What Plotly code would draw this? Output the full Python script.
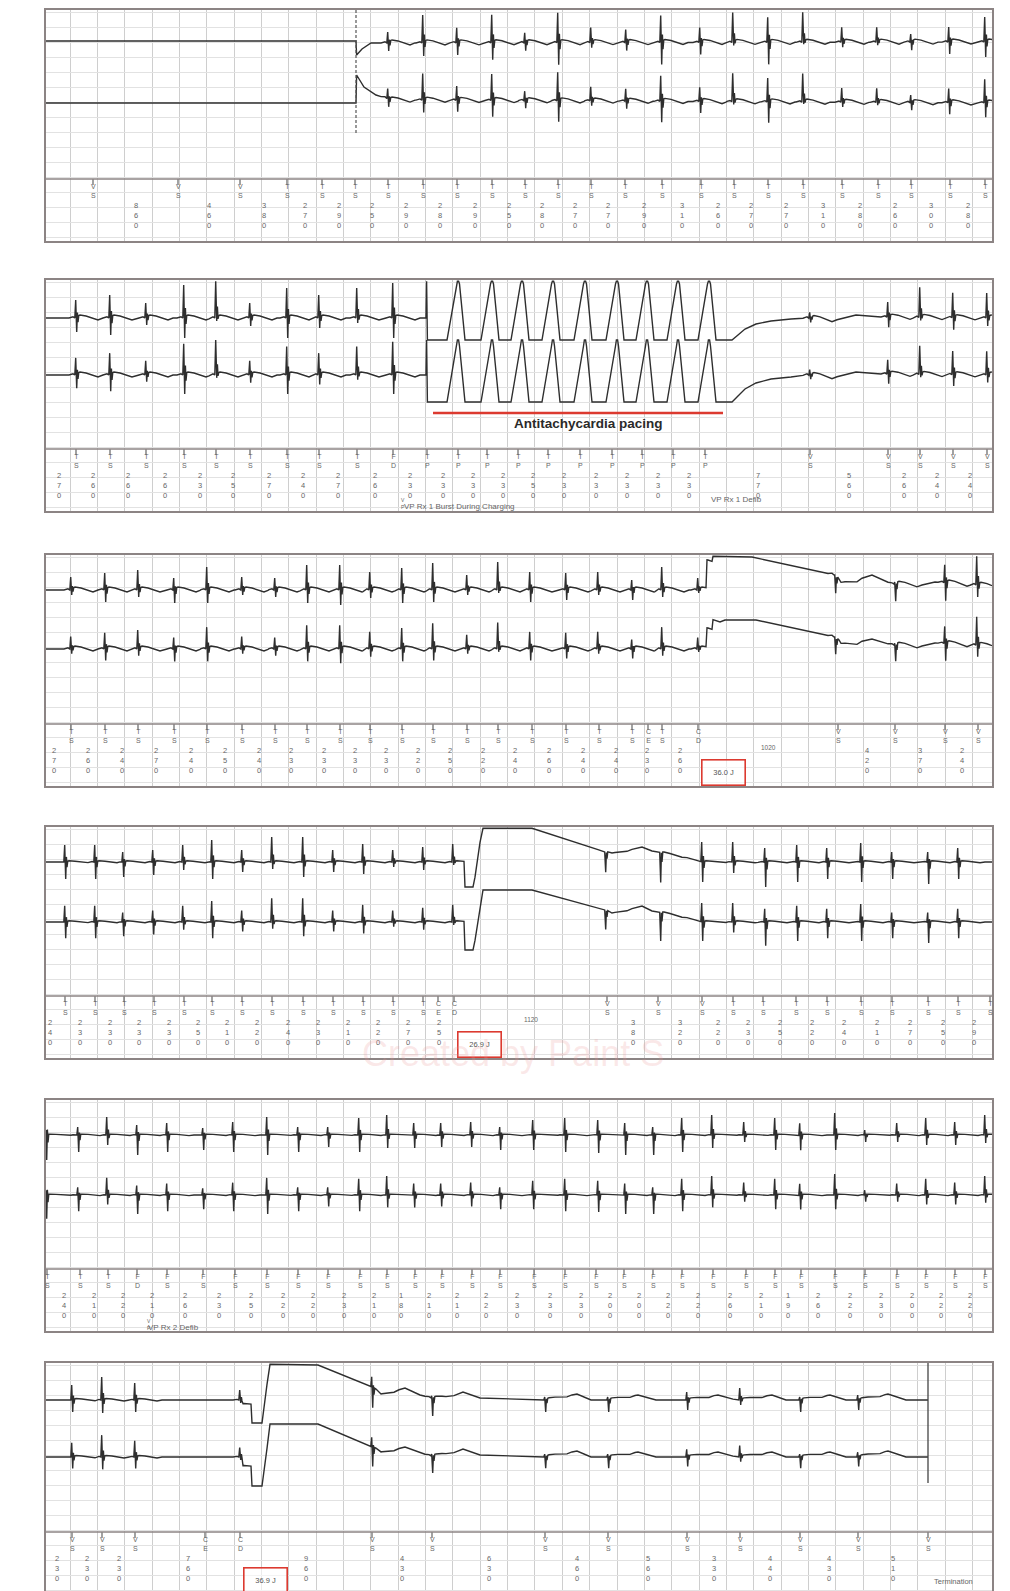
import numpy as np
import plotly.graph_objects as go

# ======================= DATA (read from the reference strips) =======================
# x positions are along each strip (0 .. 946), amplitudes in strip units (up = positive)

# ---- Strip 1 : start of EGM storage ----
P1_EGM_START = 310
P1_BEATS = [342, 377, 411, 446, 479, 512, 545, 580, 615, 654, 687, 722, 757, 796, 831, 865, 903, 939]
P1_UP = [11, 28, 15, 28, 10, 30, 15, 13, 27, 15, 30, 25, 30, 15, 15, 8, 15, 25]
P1_DN = [8, 13, 12, 17, 8, 22, 5, 8, 22, 12, 3, 22, 2, 5, 3, 8, 12, 15]
P1_TOP_BASE_X = [0, 310, 310.6, 316, 325, 946]
P1_TOP_BASE_Y = [0, 0, -14, -8, -2, -1]
P1_BOT_BASE_X = [0, 310, 310.6, 318, 330, 345, 946]
P1_BOT_BASE_Y = [0, 0, 28, 16, 8, 3, 0]
P1_MK_X = [47, 132, 194, 241, 276, 309, 342, 377, 411, 446, 479, 512, 545, 579, 616, 655, 688, 722,
           757, 796, 832, 865, 904, 939]
P1_MK_LBL = ["VS", "VS", "VS"] + ["TS"] * 21
P1_MK_INT = [None, 860, 460, 380, 270, 290, 250, 290, 280, 290, 250, 280, 270, 270, 290, 310, 260, 270,
             270, 310, 280, 260, 300, 280]

# ---- Strip 2 : ATP during charging ----
P2_BEATS = [30, 64, 100, 138, 170, 204, 241, 273, 311, 347, 764, 842, 874, 907, 941]
P2_UP = [18, 23, 15, 33, 38, 15, 30, 23, 30, 35, 6, 15, 30, 25, 25]
P2_DN = [14, 17, 7, 20, 3, 8, 20, 10, 5, 20, 4, 10, 3, 12, 8]
P2_PACES = [412, 446, 476, 507, 539, 571, 601, 632, 663]
P2_TOP_BASE_X = [0, 380, 380.6, 381.4, 686, 692, 699, 710, 725, 745, 760, 790, 810, 830, 946]
P2_TOP_BASE_Y = [0, 0, 60, -22, -22, -17, -11, -6, -3, -1, 0, -2, 3, 1, 0]
P2_BOT_BASE_X = [0, 380, 380.6, 381.4, 686, 692, 699, 710, 725, 745, 760, 790, 810, 830, 946]
P2_BOT_BASE_Y = [0, 0, 40, -27, -27, -21, -14, -8, -4, -2, 0, -2, 3, 1, 0]
P2_MK_X = [30, 64, 100, 138, 170, 204, 241, 273, 311, 347, 381, 412, 441, 472, 502, 534, 566, 596,
           627, 659, 764, 842, 874, 907, 941]
P2_MK_LBL = ["TS"] * 9 + ["FD"] + ["TP"] * 10 + ["VS"] * 5
P2_MK_INT = [270, 260, 260, 260, 230, 250, 270, 240, 270, 260, 230, 230, 230, 230, 250, 230, 230, 230,
             230, 230, 770, 560, 260, 240, 240]
P2_ATP_LABEL = "Antitachycardia pacing"
P2_RX_TEXT = "VP Rx 1 Burst During Charging"
P2_RX2_TEXT = "VP Rx 1 Defib"

# ---- Strip 3 : first shock ----
P3_BEATS = [25, 59, 92, 128, 161, 196, 229, 261, 294, 324, 356, 387, 421, 452, 484, 520, 552, 586,
            616, 652, 789, 849, 899, 931]
P3_UP = [13, 17, 20, 12, 23, 13, 12, 25, 25, 18, 22, 27, 15, 28, 18, 17, 18, 10, 23, 12, 0, 2, 18, 30]
P3_DN = [5, 12, 7, 13, 13, 5, 7, 13, 15, 8, 13, 12, 5, 3, 12, 10, 5, 10, 7, 3, 17, 17, 18, 12]
P3_TOP_BASE_X = [0, 660, 661, 666, 667, 706, 789, 795, 826, 846, 876, 889, 946]
P3_TOP_BASE_Y = [0, 0, 28, 28, 45, 33, 15, 5, 15, 6, 5, 8, 4]
P3_BOT_BASE_X = [0, 660, 661, 666, 667, 710, 789, 795, 826, 846, 876, 889, 946]
P3_BOT_BASE_Y = [0, 0, 19, 19, 29, 29, 12, 3, 10, 4, 3, 6, 3]
P3_MK_X = [25, 59, 92, 128, 161, 196, 229, 261, 294, 324, 356, 387, 421, 452, 486, 520, 553, 586,
           602, 616, 652, 792, 849, 899, 932]
P3_MK_LBL = ["TS"] * 18 + ["CE", "TS", "CD"] + ["VS"] * 4
P3_MK_INT = [270, 260, 240, 270, 240, 250, 240, 230, 230, 230, 230, 220, 250, 220, 240, 260, 240, 240,
             None, 230, 260, 1020, 420, 370, 240]
P3_ENERGY = "36.0 J"

# ---- Strip 4 : second shock ----
P4_BEATS = [19, 49, 77, 107, 137, 166, 196, 226, 257, 287, 317, 347, 377, 407, 559, 614, 656, 687,
            719, 751, 781, 815, 846, 882, 912]
P4_UP = [17, 17, 10, 12, 17, 22, 12, 25, 25, 12, 18, 12, 15, 18, 0, 0, 20, 20, 14, 17, 14, 19, 10, 10, 14]
P4_DN = [17, 17, 15, 13, 8, 17, 10, 7, 15, 10, 12, 5, 8, 3, 20, 30, 20, 11, 25, 20, 17, 20, 17, 22, 17]
P4_TOP_BASE_X = [0, 418, 419, 427, 437, 486, 559, 566, 596, 606, 639, 656, 946]
P4_TOP_BASE_Y = [0, 0, -28, -28, 40, 35, 10, 8, 15, 11, 5, 0, 0]
P4_BOT_BASE_X = [0, 418, 419, 427, 437, 486, 559, 566, 596, 606, 639, 656, 946]
P4_BOT_BASE_Y = [0, 0, -30, -30, 32, 32, 12, 8, 16, 11, 5, 0, 0]
P4_MK_X = [19, 49, 78, 108, 138, 166, 196, 226, 257, 287, 317, 347, 377, 392, 408, 561, 612, 656,
           687, 717, 750, 781, 815, 846, 882, 912, 944]
P4_MK_LBL = ["TS"] * 13 + ["CE", "CD"] + ["VS"] * 3 + ["TS"] * 9
P4_MK_INT = [240, 230, 230, 230, 230, 250, 210, 220, 240, 230, 210, 220, 270, None, 250, 1120, 380, 320,
             220, 230, 250, 220, 240, 210, 270, 250, 290]
P4_ENERGY = "26.9 J"

# ---- Strip 5 : redetection ----
P5_BEATS = [0, 32, 61, 91, 121, 157, 187, 221, 252, 282, 313, 341, 368, 395, 425, 454, 487, 519,
            552, 579, 607, 636, 666, 698, 729, 754, 789, 819, 851, 880, 909, 939]
P5_UP = [18, 8, 18, 10, 12, 7, 13, 18, 8, 8, 17, 20, 12, 12, 13, 8, 15, 17, 15, 12, 8, 17, 20, 13,
         17, 12, 22, 5, 12, 17, 13, 20]
P5_DN = [25, 17, 10, 20, 17, 15, 17, 20, 17, 12, 17, 13, 13, 12, 12, 15, 15, 17, 18, 20, 20, 17, 13, 7,
         15, 15, 15, 7, 7, 10, 10, 8]
P5_TOP_BASE_X = [0, 946]
P5_TOP_BASE_Y = [0, 0]
P5_BOT_BASE_X = [0, 946]
P5_BOT_BASE_Y = [0, 0]
P5_MK_X = [1, 34, 62, 91, 121, 157, 189, 221, 252, 282, 314, 341, 369, 396, 426, 454, 488, 519,
           550, 578, 607, 636, 667, 700, 729, 755, 789, 819, 851, 880, 909, 939]
P5_MK_LBL = ["TS"] * 3 + ["FD"] + ["FS"] * 28
P5_MK_INT = [None, 240, 210, 220, 210, 260, 230, 250, 220, 220, 230, 210, 180, 210, 210, 220, 230, 230,
             230, 200, 200, 220, 220, 260, 210, 190, 260, 220, 230, 200, 220, 220]
P5_RX_TEXT = "VP Rx 2 Defib"

# ---- Strip 6 : third shock, termination ----
P6_EGM_END = 882
P6_BEATS = [26, 56, 89, 194, 326, 386, 499, 562, 641, 694, 754, 812]
P6_UP = [15, 23, 17, 10, 10, 2, 3, 3, 8, 12, 3, 5]
P6_DN = [12, 13, 12, 3, 20, 18, 12, 12, 10, 5, 12, 10]
P6_TOP_BASE_X = [0, 196, 197, 205, 206, 216, 224, 272, 326, 335, 359, 374, 386, 400, 417, 434, 499, 531,
                 545, 562, 592, 610, 641, 672, 690, 694, 726, 740, 754, 784, 800, 812, 842, 860, 882]
P6_TOP_BASE_Y = [0, 0, -5, -5, -25, -25, 40, 35, 13, 5, 12, 5, 2, 3, 8, 2, 0, 6,
                 0, 0, 5, 0, 0, 5, 0, 0, 5, 0, 0, 5, 0, 0, 6, 0, 0]
P6_BOT_BASE_X = P6_TOP_BASE_X
P6_BOT_BASE_Y = [0, 0, -10, -10, -32, -32, 33, 33, 10, 4, 10, 4, 1, 3, 8, 2, 0, 6,
                 0, 0, 5, 0, 0, 5, 0, 0, 5, 0, 0, 5, 0, 0, 6, 0, 0]
P6_MK_X = [26, 56, 89, 159, 194, 326, 386, 499, 562, 641, 694, 754, 812, 882]
P6_MK_LBL = ["VS"] * 3 + ["CE", "CD"] + ["VS"] * 9
P6_MK_INT = [230, 230, 230, None, 760, 960, 430, 630, 460, 560, 330, 440, 430, 510]
P6_ENERGY = "36.9 J"
P6_END_TEXT = "Termination"

WATERMARK = "Created by Paint S"

# ======================= STYLE / LAYOUT =======================
W, H = 1010, 1591
PAGE_OFF = 8                      # default body margin of the html page
LEFT, RIGHT = 46, 992
STRIP_W = RIGHT - LEFT
PANEL_TOPS = [10, 280, 555, 827, 1100, 1363]
PANEL_H = [231, 231, 231, 231, 231, 231]
TOP_BASE = [31, 38, 35, 35, 35, 37]
BOT_BASE = [93, 95, 94, 95, 95, 94]
TAIL = [1.0, 1.0, 1.0, 0.4, 0.3, 0.5]
BAND_SPLIT, BAND_LOW, BAND_TOP = 60, 123, 1.3
MK_Y = 169
BOT_SCALE = 0.95

TRACE_C = "#2e2e2e"
FRAME_C = "#8c8484"
GRID_V = "#cecece"
GRID_H = "#e2e2e2"
TEXT_C = "#666666"
RED = "#dc3a30"
FONT = "Liberation Sans, Arial, sans-serif"

# beat waveform template (dx, coefficient on up-amp, on down-amp, constant*tail)
TPL_DX = np.array([-7, -3, -1.2, -0.3, 0.7, 1.4, 2.0, 2.8, 4, 10, 22, 27], dtype=float)
TPL_CU = np.array([0, 0, 0, 1, 0, 0.3, 0, 0, 0, 0, 0, 0], dtype=float)
TPL_CD = np.array([0, 0, 0, 0, 1, 0, 0.3, 0, 0, 0, 0, 0], dtype=float)
TPL_C = np.array([0, 1.2, 0, 0, 0, 0, 0, 2.5, 3, 2, -2, 0], dtype=float)
# paced complex template
PACE_DX = np.array([-11, -1.5, -0.6, 0.6, 1.5, 7], dtype=float)
PACE_DY = np.array([0, 56, 62, 62, 56, 0], dtype=float)


def build_signal(bx, by, beats, up, dn, tail, scale, paces, x_end):
    pts = {0.0, float(x_end)} | {float(v) for v in bx}
    for b in beats:
        pts.update((b + TPL_DX).tolist())
    for p in paces:
        pts.update((p + PACE_DX).tolist())
    x = np.array(sorted(v for v in pts if 0 <= v <= x_end))
    s = np.interp(x, np.array(bx, float), np.array(by, float))
    for b, u, d in zip(beats, up, dn):
        tpl = scale * (TPL_CU * u - TPL_CD * d) + TPL_C * tail
        s = s + np.interp(x, b + TPL_DX, tpl, left=0, right=0)
    for p in paces:
        s = s + np.interp(x, p + PACE_DX, PACE_DY, left=0, right=0)
    return x, s


PANELS = [
    dict(beats=P1_BEATS, up=P1_UP, dn=P1_DN, tbx=P1_TOP_BASE_X, tby=P1_TOP_BASE_Y,
         bbx=P1_BOT_BASE_X, bby=P1_BOT_BASE_Y, paces=[], mk=P1_MK_X, lbl=P1_MK_LBL, iv=P1_MK_INT,
         end=STRIP_W, energy=None),
    dict(beats=P2_BEATS, up=P2_UP, dn=P2_DN, tbx=P2_TOP_BASE_X, tby=P2_TOP_BASE_Y,
         bbx=P2_BOT_BASE_X, bby=P2_BOT_BASE_Y, paces=P2_PACES, mk=P2_MK_X, lbl=P2_MK_LBL, iv=P2_MK_INT,
         end=STRIP_W, energy=None),
    dict(beats=P3_BEATS, up=P3_UP, dn=P3_DN, tbx=P3_TOP_BASE_X, tby=P3_TOP_BASE_Y,
         bbx=P3_BOT_BASE_X, bby=P3_BOT_BASE_Y, paces=[], mk=P3_MK_X, lbl=P3_MK_LBL, iv=P3_MK_INT,
         end=STRIP_W, energy=P3_ENERGY),
    dict(beats=P4_BEATS, up=P4_UP, dn=P4_DN, tbx=P4_TOP_BASE_X, tby=P4_TOP_BASE_Y,
         bbx=P4_BOT_BASE_X, bby=P4_BOT_BASE_Y, paces=[], mk=P4_MK_X, lbl=P4_MK_LBL, iv=P4_MK_INT,
         end=STRIP_W, energy=P4_ENERGY),
    dict(beats=P5_BEATS, up=P5_UP, dn=P5_DN, tbx=P5_TOP_BASE_X, tby=P5_TOP_BASE_Y,
         bbx=P5_BOT_BASE_X, bby=P5_BOT_BASE_Y, paces=[], mk=P5_MK_X, lbl=P5_MK_LBL, iv=P5_MK_INT,
         end=STRIP_W, energy=None),
    dict(beats=P6_BEATS, up=P6_UP, dn=P6_DN, tbx=P6_TOP_BASE_X, tby=P6_TOP_BASE_Y,
         bbx=P6_BOT_BASE_X, bby=P6_BOT_BASE_Y, paces=[], mk=P6_MK_X, lbl=P6_MK_LBL, iv=P6_MK_INT,
         end=P6_EGM_END, energy=P6_ENERGY),
]

fig = go.Figure()
annotations = []
shapes = []


def sfx(i):
    return "" if i == 1 else str(i)


def small(x, y, text, xr, yr, size=7.5, anchor="center", yanchor="top", color=TEXT_C):
    annotations.append(dict(x=x, y=y, xref=xr, yref=yr, text=text, showarrow=False,
                            xanchor=anchor, yanchor=yanchor, borderpad=0,
                            font=dict(family=FONT, size=size, color=color)))


for k, P in enumerate(PANELS):
    i = k + 1
    xr, yr = "x" + sfx(i), "y" + sfx(i)
    top = PANEL_TOPS[k] - PAGE_OFF
    h = PANEL_H[k]
    fig.update_layout(**{
        "xaxis" + sfx(i): dict(domain=[(LEFT - PAGE_OFF) / W, (RIGHT - PAGE_OFF) / W],
                               range=[0, STRIP_W], anchor=yr,
                               showgrid=True, gridcolor=GRID_V, gridwidth=1, tick0=24, dtick=27.35,
                               showticklabels=False, ticks="", zeroline=False,
                               showline=True, linecolor=FRAME_C, linewidth=2, mirror=True,
                               fixedrange=True),
        "yaxis" + sfx(i): dict(domain=[max(0, (H - top - h) / H), (H - top) / H], range=[h, 0], anchor=xr,
                               showgrid=True, gridcolor=GRID_H, gridwidth=1, tick0=2, dtick=15,
                               showticklabels=False, ticks="", zeroline=False,
                               showline=True, linecolor=FRAME_C, linewidth=2, mirror=True,
                               fixedrange=True),
    })

    # marker-channel separator
    shapes.append(dict(type="line", xref=xr + " domain", x0=0, x1=1, yref=yr, y0=MK_Y, y1=MK_Y,
                       line=dict(color=FRAME_C, width=1.6), layer="above"))

    # two EGM channels
    xt, st = build_signal(P["tbx"], P["tby"], P["beats"], P["up"], P["dn"], TAIL[k], 1.0,
                          P["paces"], P["end"])
    xb, sb = build_signal(P["bbx"], P["bby"], P["beats"], P["up"], P["dn"], TAIL[k], BOT_SCALE,
                          P["paces"], P["end"])
    yt = np.clip(TOP_BASE[k] - st, BAND_TOP, BAND_SPLIT)
    yb = np.clip(BOT_BASE[k] - sb, BAND_SPLIT, BAND_LOW)
    for xx, yy in ((xt, yt), (xb, yb)):
        fig.add_trace(go.Scatter(x=xx, y=yy, mode="lines", xaxis=xr, yaxis=yr,
                                 line=dict(color=TRACE_C, width=1.4), hoverinfo="skip",
                                 showlegend=False))

    # marker ticks
    tx, ty = [], []
    for t in P["mk"]:
        tx += [t, t, None]
        ty += [MK_Y, MK_Y + 6, None]
    fig.add_trace(go.Scatter(x=tx, y=ty, mode="lines", xaxis=xr, yaxis=yr,
                             line=dict(color="#555555", width=1.1), hoverinfo="skip",
                             showlegend=False))
    # marker labels
    for t, lab in zip(P["mk"], P["lbl"]):
        small(t, MK_Y + 3, "<br>".join(lab), xr, yr, size=7)
    # interval labels
    prev = None
    mk = P["mk"]
    for j, (t, v) in enumerate(zip(mk, P["iv"])):
        if v is not None:
            p = prev if prev is not None else t - (mk[j + 1] - t if j + 1 < len(mk) else 30)
            mid = (p + t) / 2
            sv = str(v)
            if len(sv) >= 4:
                small(mid, MK_Y + 23, sv, xr, yr, size=6.5, yanchor="middle")
            else:
                small(mid, MK_Y + 21, "<br>".join(sv), xr, yr, size=7.5)
        if P["lbl"][j] != "CE":
            prev = t

    # shock energy box next to the CD marker
    if P["energy"]:
        cd = mk[P["lbl"].index("CD")]
        annotations.append(dict(x=cd + 25, y=MK_Y + 48, xref=xr, yref=yr, text=P["energy"],
                                showarrow=False, width=40, height=22, borderwidth=1.6,
                                bordercolor=RED, borderpad=1, bgcolor="rgba(255,255,255,0.6)",
                                font=dict(family=FONT, size=7.5, color="#555555")))

# ---- strip-specific extras ----
# strip 1: start of stored EGM
fig.add_trace(go.Scatter(x=[P1_EGM_START, P1_EGM_START], y=[0, 125], mode="lines", xaxis="x", yaxis="y",
                         line=dict(color="#555555", width=1.2, dash="3px,2px"), hoverinfo="skip",
                         showlegend=False))

# strip 2: ATP underline and labels
tp = [t for t, l in zip(P2_MK_X, P2_MK_LBL) if l == "TP"]
fig.add_trace(go.Scatter(x=[tp[0] + 6, tp[-1] + 18], y=[133, 133], mode="lines", xaxis="x2", yaxis="y2",
                         line=dict(color=RED, width=2.6), hoverinfo="skip", showlegend=False))
annotations.append(dict(x=(tp[0] + tp[-1]) / 2 + 22, y=143, xref="x2", yref="y2", text=P2_ATP_LABEL,
                        showarrow=False,
                        font=dict(family=FONT, size=13.5, color="#2a2a2a", weight="bold")))
fd = P2_MK_X[P2_MK_LBL.index("FD")]
small(fd + 10, 226, P2_RX_TEXT, "x2", "y2", size=8, anchor="left", yanchor="middle")
small(fd + 10, 216, "V<br>P", "x2", "y2", size=5)
small(tp[-1] + 5, 219, P2_RX2_TEXT, "x2", "y2", size=8, anchor="left", yanchor="middle")

# strip 5: redetection text
fd5 = P5_MK_X[P5_MK_LBL.index("FD")]
small(fd5 + 10, 227, P5_RX_TEXT, "x5", "y5", size=8, anchor="left", yanchor="middle")
small(fd5 + 12, 217, "V<br>P", "x5", "y5", size=5)

# strip 6: end of episode
fig.add_trace(go.Scatter(x=[P6_EGM_END, P6_EGM_END], y=[0, 120], mode="lines", xaxis="x6", yaxis="y6",
                         line=dict(color="#444444", width=1.3), hoverinfo="skip", showlegend=False))
small(P6_EGM_END + 5, 218, P6_END_TEXT, "x6", "y6", size=7.5, anchor="left", yanchor="middle")

# faint watermark
annotations.append(dict(x=(513 - PAGE_OFF) / W, y=1 - (1076 - PAGE_OFF) / H, xref="paper", yref="paper",
                        text=WATERMARK, showarrow=False,
                        font=dict(family=FONT, size=36, color="rgba(235,150,150,0.22)")))

fig.update_layout(width=W, height=H, margin=dict(l=0, r=0, t=0, b=0),
                  paper_bgcolor="#ffffff", plot_bgcolor="#ffffff", showlegend=False,
                  annotations=annotations, shapes=shapes)

fig.write_html("out.html")
